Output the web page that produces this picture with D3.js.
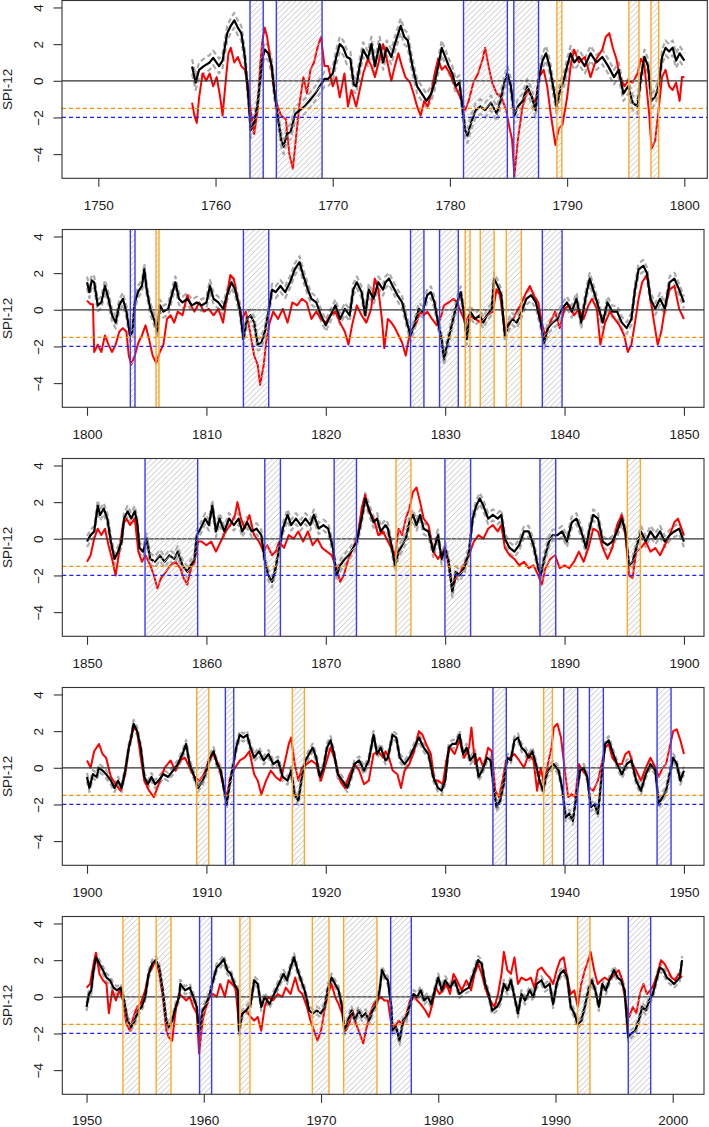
<!DOCTYPE html>
<html><head><meta charset="utf-8">
<script src="https://cdn.jsdelivr.net/npm/d3@7"></script>
<style>body{margin:0;background:#fff}svg{display:block}</style>
</head><body><svg id="c" width="709" height="1127"></svg>
<script>
// ---------------- DATA ----------------
const yTicks = [-4, -2, 0, 2, 4];
const ticks1 = [1750, 1760, 1770, 1780, 1790, 1800];
const ticks2 = [1800, 1810, 1820, 1830, 1840, 1850];
const ticks3 = [1850, 1860, 1870, 1880, 1890, 1900];
const ticks4 = [1900, 1910, 1920, 1930, 1940, 1950];
const ticks5 = [1950, 1960, 1970, 1980, 1990, 2000];
const thresholdModerate = -1.5;
const thresholdSevere = -2;
const bandHalfWidth = [0.4, 0.32, 0.3, 0.22, 0.22];

const black1 = [[1758.0,0.78],[1758.3,-0.1],[1758.6,0.6],[1759.0,0.8],[1759.5,1.0],[1759.8,1.25],[1760.3,0.8],[1760.6,1.1],[1761.0,2.6],[1761.3,3.0],[1761.6,3.3],[1761.9,2.9],[1762.2,2.6],[1762.5,1.3],[1762.8,-0.9],[1763.0,-2.7],[1763.3,-2.3],[1763.6,-1.2],[1763.8,0.0],[1764.0,1.2],[1764.2,1.7],[1764.5,1.5],[1764.8,0.8],[1765.0,-0.5],[1765.3,-1.9],[1765.6,-3.2],[1765.8,-3.6],[1766.1,-2.9],[1766.4,-2.8],[1766.8,-1.8],[1767.2,-1.6],[1767.6,-1.4],[1768.0,-1.1],[1768.5,-0.7],[1769.0,-0.2],[1769.3,0.1],[1769.6,0.1],[1770.0,0.4],[1770.3,1.3],[1770.6,2.0],[1770.9,1.8],[1771.2,1.3],[1771.5,1.2],[1771.8,-0.2],[1772.0,-0.3],[1772.3,0.8],[1772.6,1.7],[1773.0,1.2],[1773.3,2.0],[1773.6,0.8],[1774.0,2.0],[1774.3,1.0],[1774.6,1.8],[1775.0,1.3],[1775.3,2.0],[1775.6,2.6],[1775.8,3.0],[1776.1,2.4],[1776.4,2.2],[1776.8,0.8],[1777.2,-0.3],[1777.6,-0.7],[1778.0,-1.1],[1778.4,-0.7],[1778.7,-0.1],[1779.0,0.8],[1779.3,1.8],[1779.6,1.3],[1779.9,0.8],[1780.2,0.4],[1780.5,-0.3],[1780.8,-0.1],[1781.0,-1.1],[1781.3,-2.7],[1781.5,-3.0],[1781.8,-2.3],[1782.2,-1.6],[1782.6,-1.4],[1783.0,-1.6],[1783.5,-1.2],[1784.0,-1.8],[1784.3,-1.1],[1784.6,-0.2],[1784.9,0.4],[1785.2,-0.3],[1785.5,-1.9],[1785.8,-1.4],[1786.2,-1.1],[1786.6,-0.3],[1787.0,-0.9],[1787.3,-1.6],[1787.6,0.2],[1787.9,1.1],[1788.2,1.5],[1788.5,0.8],[1788.8,-0.3],[1789.1,-1.4],[1789.4,-0.5],[1789.7,0.0],[1790.0,0.8],[1790.3,1.5],[1790.6,1.0],[1791.0,1.3],[1791.5,0.8],[1792.0,1.5],[1792.5,1.0],[1793.0,1.3],[1793.5,0.8],[1794.0,0.2],[1794.4,0.6],[1794.8,-0.7],[1795.2,-0.3],[1795.6,-1.2],[1796.0,-1.4],[1796.3,0.2],[1796.6,1.3],[1796.9,0.8],[1797.2,-1.1],[1797.5,-0.9],[1797.8,-0.3],[1798.1,1.3],[1798.4,1.8],[1798.7,1.6],[1799.0,1.8],[1799.3,1.1],[1799.6,1.5],[1800.0,1.1]];
const red1 = [[1758.0,-1.2],[1758.2,-1.9],[1758.4,-2.3],[1758.6,-0.9],[1758.9,0.4],[1759.2,0.0],[1759.5,0.4],[1759.8,-0.3],[1760.1,0.2],[1760.4,-0.9],[1760.6,-1.9],[1760.9,0.2],[1761.1,1.5],[1761.3,1.8],[1761.6,1.0],[1761.9,1.3],[1762.2,0.8],[1762.5,0.6],[1762.8,-0.3],[1763.0,-1.6],[1763.3,-2.9],[1763.6,-1.6],[1763.8,0.8],[1764.0,2.2],[1764.2,2.9],[1764.4,2.4],[1764.7,1.1],[1765.0,-0.5],[1765.3,-1.4],[1765.6,-1.9],[1766.0,-2.1],[1766.3,-4.0],[1766.6,-4.8],[1766.9,-2.9],[1767.2,-1.1],[1767.5,0.2],[1767.8,-0.7],[1768.1,0.6],[1768.4,1.0],[1768.7,1.8],[1769.0,2.4],[1769.3,0.8],[1769.6,0.8],[1770.0,-0.3],[1770.3,0.2],[1770.6,-0.9],[1771.0,0.4],[1771.3,-1.4],[1771.6,-0.5],[1772.0,-1.4],[1772.3,-0.5],[1772.6,0.4],[1773.0,1.2],[1773.3,0.8],[1773.6,0.2],[1774.0,1.2],[1774.3,2.0],[1774.6,1.2],[1775.0,0.0],[1775.3,0.8],[1775.6,1.5],[1775.9,0.8],[1776.2,0.2],[1776.6,-0.1],[1776.9,-0.7],[1777.2,-1.4],[1777.5,-1.9],[1777.8,-1.1],[1778.1,-1.4],[1778.4,-0.7],[1778.7,0.4],[1779.0,1.2],[1779.3,0.6],[1779.6,0.8],[1780.0,0.4],[1780.3,-0.1],[1780.6,-0.5],[1781.0,-1.1],[1781.3,-1.6],[1781.6,-1.1],[1782.0,-0.1],[1782.4,0.4],[1782.8,1.2],[1783.0,1.8],[1783.3,0.8],[1783.6,-0.1],[1784.0,-0.7],[1784.4,-0.9],[1784.8,-1.6],[1785.0,-2.3],[1785.3,-3.2],[1785.5,-5.2],[1785.8,-3.2],[1786.2,-1.4],[1786.6,-0.5],[1787.0,-0.9],[1787.3,-1.2],[1787.6,0.2],[1788.0,0.6],[1788.3,-0.3],[1788.6,-1.8],[1789.0,-3.5],[1789.3,-2.6],[1789.6,-2.4],[1790.0,-0.9],[1790.3,0.8],[1790.6,1.7],[1791.0,1.0],[1791.5,1.3],[1792.0,0.2],[1792.5,1.2],[1793.0,1.7],[1793.3,2.4],[1793.6,2.6],[1793.9,1.8],[1794.2,1.2],[1794.5,0.2],[1794.9,-0.3],[1795.2,0.0],[1795.6,-0.1],[1796.0,0.4],[1796.3,1.2],[1796.6,0.8],[1797.0,-1.8],[1797.2,-3.7],[1797.5,-3.3],[1797.8,-1.6],[1798.1,0.2],[1798.4,0.6],[1798.7,-0.3],[1799.0,-0.5],[1799.3,-0.1],[1799.6,-1.1],[1799.8,0.2],[1800.0,0.2]];
const regions1 = [[1762.94,1764.07,"severe"],[1765.19,1769.09,"severe"],[1781.16,1784.9,"severe"],[1785.45,1787.56,"severe"],[1789.13,1789.55,"moderate"],[1795.27,1796.13,"moderate"],[1797.15,1797.81,"moderate"]];

const black2 = [[1800.0,1.5],[1800.2,0.96],[1800.4,1.6],[1800.6,1.5],[1800.9,0.24],[1801.2,0.4],[1801.5,1.3],[1801.8,0.6],[1802.1,-0.3],[1802.4,-0.7],[1802.7,0.24],[1803.0,0.6],[1803.3,-0.1],[1803.6,-1.4],[1803.8,-1.2],[1804.0,0.4],[1804.3,1.0],[1804.6,1.3],[1804.8,2.2],[1805.0,1.1],[1805.3,0.05],[1805.6,-0.5],[1805.9,-1.2],[1806.1,0.24],[1806.4,-0.1],[1806.8,0.05],[1807.1,0.8],[1807.4,1.5],[1807.7,0.6],[1808.0,0.4],[1808.4,0.6],[1808.8,0.24],[1809.2,0.4],[1809.6,0.24],[1810.0,0.4],[1810.3,1.3],[1810.6,0.6],[1811.0,0.4],[1811.4,0.05],[1811.8,0.96],[1812.1,1.5],[1812.4,1.1],[1812.8,0.05],[1813.1,-1.6],[1813.4,-0.5],[1813.7,-0.3],[1814.0,-0.7],[1814.3,-1.9],[1814.6,-1.8],[1814.9,-1.2],[1815.2,-0.1],[1815.5,1.1],[1815.8,0.96],[1816.2,1.3],[1816.6,0.96],[1817.0,1.5],[1817.4,2.2],[1817.8,2.6],[1818.1,1.9],[1818.5,1.1],[1818.8,0.6],[1819.2,0.4],[1819.6,-0.3],[1820.0,-0.85],[1820.4,-0.3],[1820.8,0.24],[1821.2,-0.5],[1821.6,0.05],[1822.0,-0.3],[1822.3,1.1],[1822.6,1.5],[1823.0,0.96],[1823.3,-0.3],[1823.6,1.1],[1824.0,0.6],[1824.4,1.5],[1824.8,1.1],[1825.0,1.5],[1825.3,1.7],[1825.6,1.3],[1826.0,0.8],[1826.4,0.4],[1826.8,-0.7],[1827.1,-1.4],[1827.4,-0.85],[1827.8,0.05],[1828.1,-0.1],[1828.5,0.8],[1828.8,0.96],[1829.1,0.4],[1829.4,-0.7],[1829.7,-1.6],[1829.9,-2.7],[1830.2,-1.8],[1830.6,-0.7],[1831.0,0.4],[1831.3,0.96],[1831.6,-0.3],[1831.8,-1.6],[1832.1,-0.1],[1832.5,-0.5],[1832.9,-0.3],[1833.2,-0.7],[1833.5,-0.3],[1833.9,0.05],[1834.1,1.7],[1834.4,1.3],[1834.7,0.8],[1835.0,-1.4],[1835.3,-0.85],[1835.6,-0.5],[1836.0,-0.7],[1836.4,-0.1],[1836.8,0.6],[1837.2,0.8],[1837.6,0.4],[1838.0,-0.7],[1838.3,-1.8],[1838.6,-1.0],[1839.0,-0.7],[1839.4,-0.5],[1839.8,0.05],[1840.2,0.4],[1840.6,-0.1],[1841.0,0.6],[1841.4,-0.7],[1841.8,0.8],[1842.1,1.7],[1842.4,1.1],[1842.8,0.24],[1843.2,-0.7],[1843.6,0.4],[1844.0,-0.1],[1844.4,-0.1],[1844.8,-0.7],[1845.2,-1.0],[1845.6,-0.5],[1845.9,1.1],[1846.2,2.2],[1846.6,2.4],[1846.9,2.0],[1847.2,0.6],[1847.6,0.05],[1848.0,0.6],[1848.4,0.05],[1848.8,1.5],[1849.2,1.7],[1849.6,1.1],[1850.0,0.4]];
const red2 = [[1800.0,0.5],[1800.3,0.3],[1800.5,0.3],[1800.6,-2.3],[1800.9,-1.9],[1801.2,-2.3],[1801.5,-1.4],[1801.8,-1.9],[1802.1,-2.3],[1802.4,-1.9],[1802.7,-1.2],[1803.0,-1.0],[1803.3,-1.2],[1803.5,-2.5],[1803.7,-3.0],[1804.0,-2.5],[1804.3,-1.8],[1804.6,-1.4],[1804.9,-0.85],[1805.2,-1.6],[1805.5,-2.5],[1805.8,-2.9],[1806.1,-2.3],[1806.4,-1.9],[1806.7,-0.5],[1807.0,-0.3],[1807.3,-0.7],[1807.6,-0.1],[1808.0,-0.3],[1808.4,0.8],[1808.7,0.24],[1809.0,-0.1],[1809.4,0.4],[1809.8,-0.1],[1810.2,0.05],[1810.6,-0.3],[1811.0,0.05],[1811.4,-0.7],[1811.8,1.1],[1812.0,1.9],[1812.3,1.7],[1812.6,0.6],[1813.0,-0.5],[1813.3,-0.1],[1813.6,-1.0],[1814.0,-2.5],[1814.3,-3.0],[1814.5,-4.1],[1814.8,-3.0],[1815.0,-1.8],[1815.3,-0.7],[1815.6,-0.1],[1816.0,-0.5],[1816.4,0.05],[1816.8,-0.7],[1817.2,0.4],[1817.6,0.24],[1818.0,0.6],[1818.4,0.4],[1818.8,-0.5],[1819.2,-0.1],[1819.6,-0.5],[1820.0,-0.7],[1820.4,-0.3],[1820.8,-0.1],[1821.2,-0.7],[1821.6,-1.2],[1821.9,-1.9],[1822.2,-0.85],[1822.6,0.24],[1823.0,-0.3],[1823.4,-0.7],[1823.8,0.05],[1824.1,1.7],[1824.4,1.1],[1824.7,-0.5],[1824.9,-2.1],[1825.2,-0.5],[1825.5,-0.7],[1825.8,-1.0],[1826.1,-1.4],[1826.4,-1.8],[1826.7,-2.5],[1827.0,-1.4],[1827.3,-1.0],[1827.6,-0.7],[1827.9,-0.1],[1828.2,-0.3],[1828.5,-0.1],[1828.9,-0.5],[1829.3,-0.85],[1829.6,-0.5],[1829.9,0.24],[1830.3,0.4],[1830.7,0.6],[1831.0,0.4],[1831.3,-0.1],[1831.7,-0.7],[1832.0,-0.3],[1832.5,-0.5],[1833.0,-0.7],[1833.5,-0.3],[1834.0,-0.1],[1834.3,1.1],[1834.6,0.8],[1835.0,-1.2],[1835.3,-0.7],[1835.7,-0.5],[1836.0,-0.1],[1836.4,0.4],[1836.8,0.96],[1837.1,1.3],[1837.4,0.8],[1837.8,0.4],[1838.1,-0.7],[1838.4,-1.4],[1838.8,-0.7],[1839.2,-0.1],[1839.6,-1.0],[1840.0,0.05],[1840.4,0.24],[1840.8,-0.3],[1841.2,0.05],[1841.6,-0.5],[1842.0,0.24],[1842.3,0.6],[1842.7,0.05],[1843.0,-1.9],[1843.4,-0.7],[1843.8,-0.1],[1844.2,-0.5],[1844.6,-0.85],[1845.0,-1.4],[1845.3,-2.3],[1845.6,-1.9],[1845.9,-0.7],[1846.2,0.6],[1846.5,1.5],[1846.9,1.9],[1847.2,0.6],[1847.5,-0.7],[1847.8,-1.9],[1848.1,-1.2],[1848.4,0.05],[1848.8,1.1],[1849.2,1.3],[1849.6,0.05],[1850.0,-0.5]];
const regions2 = [[1803.63,1804.02,"severe"],[1805.78,1806.03,"moderate"],[1813.1,1815.22,"severe"],[1827.1,1828.22,"severe"],[1829.53,1831.1,"severe"],[1831.68,1832.08,"moderate"],[1832.94,1834.1,"moderate"],[1835.12,1836.38,"moderate"],[1838.14,1839.79,"severe"]];

const black3 = [[1850.0,-0.15],[1850.3,0.2],[1850.6,0.4],[1850.9,1.8],[1851.1,1.3],[1851.4,1.65],[1851.7,1.1],[1852.0,-0.15],[1852.3,-1.1],[1852.6,-0.7],[1852.9,-0.15],[1853.1,1.1],[1853.4,1.5],[1853.7,1.1],[1854.0,1.5],[1854.2,0.9],[1854.4,-0.5],[1854.7,-0.7],[1855.0,0.0],[1855.3,-1.1],[1855.7,-1.25],[1856.1,-0.9],[1856.5,-1.25],[1856.9,-0.9],[1857.3,-1.1],[1857.6,-0.7],[1858.0,-1.45],[1858.4,-1.8],[1858.7,-1.45],[1859.0,-1.1],[1859.2,0.2],[1859.5,0.55],[1859.9,1.1],[1860.2,0.75],[1860.5,1.8],[1860.8,0.4],[1861.1,1.1],[1861.5,0.4],[1861.9,1.1],[1862.3,0.75],[1862.7,1.1],[1863.0,0.4],[1863.4,0.9],[1863.8,0.4],[1864.2,0.55],[1864.6,0.2],[1864.9,-1.25],[1865.2,-2.0],[1865.5,-2.35],[1865.8,-1.6],[1866.1,-0.5],[1866.4,0.55],[1866.8,1.3],[1867.1,0.75],[1867.5,1.1],[1867.9,0.75],[1868.3,1.1],[1868.7,0.75],[1869.0,1.3],[1869.4,0.55],[1869.8,0.75],[1870.2,0.55],[1870.6,-0.5],[1870.9,-2.0],[1871.2,-1.45],[1871.6,-1.1],[1871.9,-0.9],[1872.3,-0.5],[1872.6,-0.15],[1873.0,1.1],[1873.3,2.2],[1873.6,1.65],[1874.0,0.9],[1874.3,1.1],[1874.6,0.4],[1875.0,0.75],[1875.2,0.55],[1875.5,-0.35],[1875.8,-1.45],[1876.1,-0.7],[1876.4,-0.35],[1876.7,0.0],[1877.0,0.9],[1877.3,1.3],[1877.6,0.75],[1877.9,1.3],[1878.2,0.55],[1878.6,0.4],[1879.0,-0.7],[1879.4,0.2],[1879.7,-1.1],[1880.0,-0.5],[1880.3,-1.25],[1880.6,-2.9],[1880.9,-1.8],[1881.2,-2.0],[1881.6,-1.6],[1882.0,-0.7],[1882.3,1.1],[1882.6,1.8],[1882.9,2.2],[1883.2,1.8],[1883.6,1.1],[1884.0,1.3],[1884.4,1.1],[1884.7,1.3],[1885.0,0.0],[1885.4,-0.5],[1885.8,-0.7],[1886.2,-0.35],[1886.6,0.4],[1887.0,0.4],[1887.4,-0.35],[1887.8,-1.6],[1888.0,-2.0],[1888.3,-1.1],[1888.7,-0.15],[1889.0,0.2],[1889.4,0.2],[1889.8,0.4],[1890.2,-0.15],[1890.6,0.9],[1891.0,1.1],[1891.4,0.4],[1891.8,-0.5],[1892.1,0.55],[1892.4,1.3],[1892.8,1.1],[1893.2,-0.15],[1893.6,-0.35],[1894.0,-0.15],[1894.4,0.4],[1894.8,1.1],[1895.1,0.4],[1895.4,-1.45],[1895.7,-1.25],[1896.0,-0.5],[1896.4,0.4],[1896.8,-0.15],[1897.2,0.4],[1897.6,0.0],[1898.0,0.4],[1898.4,-0.15],[1898.8,0.2],[1899.2,0.4],[1899.6,0.55],[1900.0,-0.15]];
const red3 = [[1850.0,-1.25],[1850.3,-0.9],[1850.6,0.0],[1850.9,0.55],[1851.2,0.2],[1851.5,0.55],[1851.8,-0.35],[1852.1,-1.1],[1852.4,-2.0],[1852.7,-0.7],[1853.0,0.75],[1853.3,1.1],[1853.6,0.75],[1854.0,1.1],[1854.3,-0.7],[1854.6,-1.25],[1854.9,-0.9],[1855.3,-1.45],[1855.6,-2.0],[1855.9,-2.7],[1856.2,-2.15],[1856.6,-1.8],[1857.0,-1.45],[1857.4,-1.25],[1857.8,-1.6],[1858.1,-2.15],[1858.4,-2.5],[1858.7,-1.6],[1859.0,-1.25],[1859.3,-0.15],[1859.6,-0.15],[1860.0,-0.35],[1860.4,-0.15],[1860.8,-0.7],[1861.2,-0.15],[1861.6,0.4],[1862.0,0.75],[1862.4,1.3],[1862.6,2.0],[1862.9,1.1],[1863.2,0.55],[1863.6,1.3],[1864.0,0.2],[1864.4,-0.15],[1864.8,-0.7],[1865.1,-0.35],[1865.5,-0.9],[1865.8,-0.7],[1866.1,-0.15],[1866.5,-0.5],[1866.9,0.2],[1867.3,0.0],[1867.7,0.4],[1868.1,-0.15],[1868.5,0.4],[1868.9,-0.35],[1869.3,0.0],[1869.7,-0.5],[1870.1,-0.7],[1870.5,-0.9],[1870.9,-1.6],[1871.2,-2.35],[1871.5,-2.0],[1871.9,-1.1],[1872.3,-0.5],[1872.7,0.2],[1873.0,1.65],[1873.3,2.4],[1873.6,1.5],[1874.0,1.1],[1874.4,0.2],[1874.8,0.4],[1875.2,-0.15],[1875.5,-0.5],[1875.8,-0.9],[1876.1,0.55],[1876.4,0.2],[1876.7,1.1],[1877.0,1.65],[1877.3,2.55],[1877.6,2.8],[1877.9,2.0],[1878.2,1.1],[1878.6,0.75],[1879.0,-0.7],[1879.4,-1.1],[1879.8,-0.7],[1880.2,-1.1],[1880.6,-2.7],[1880.9,-2.15],[1881.3,-1.8],[1881.7,-1.25],[1882.0,-0.9],[1882.4,-0.15],[1882.8,0.2],[1883.2,0.0],[1883.6,0.55],[1884.0,0.75],[1884.4,0.4],[1884.7,0.75],[1885.0,-0.5],[1885.4,-0.9],[1885.8,-1.1],[1886.2,-1.45],[1886.6,-1.25],[1887.0,-1.6],[1887.4,-1.45],[1887.8,-2.0],[1888.1,-2.5],[1888.4,-1.6],[1888.8,-1.1],[1889.2,-0.9],[1889.6,-1.6],[1890.0,-1.45],[1890.4,-1.6],[1890.8,-1.25],[1891.2,-0.7],[1891.6,-1.25],[1892.0,-0.5],[1892.4,0.55],[1892.8,0.4],[1893.2,-0.5],[1893.6,-1.1],[1894.0,-0.5],[1894.4,0.75],[1894.8,1.3],[1895.1,0.2],[1895.4,-2.0],[1895.7,-2.15],[1896.0,-0.7],[1896.4,-0.5],[1896.8,-0.15],[1897.2,-0.7],[1897.6,-0.5],[1898.0,-0.9],[1898.4,-0.35],[1898.8,0.2],[1899.2,0.9],[1899.5,1.1],[1899.8,0.55],[1900.0,0.2]];
const regions3 = [[1854.86,1859.27,"severe"],[1864.89,1866.2,"severe"],[1870.7,1872.57,"severe"],[1875.88,1877.13,"moderate"],[1879.98,1882.13,"severe"],[1887.94,1889.26,"severe"],[1895.26,1896.35,"moderate"]];

const black4 = [[1900.0,-0.5],[1900.2,-1.1],[1900.5,-0.35],[1900.8,-0.5],[1901.0,0.0],[1901.3,-0.15],[1901.6,-0.35],[1902.0,-0.7],[1902.3,-1.1],[1902.6,-0.7],[1902.9,-1.1],[1903.2,-0.15],[1903.5,1.1],[1903.7,1.65],[1903.9,2.4],[1904.2,2.0],[1904.5,1.1],[1904.8,-0.5],[1905.1,-0.9],[1905.4,-0.5],[1905.7,-0.9],[1906.0,-0.7],[1906.4,-0.35],[1906.8,-0.5],[1907.2,-0.15],[1907.6,0.2],[1908.0,0.75],[1908.3,1.3],[1908.6,0.2],[1909.0,-0.5],[1909.3,-1.1],[1909.7,-0.7],[1910.0,-0.15],[1910.3,0.55],[1910.6,0.9],[1910.9,0.2],[1911.2,-0.15],[1911.5,-1.25],[1911.7,-2.0],[1911.9,-1.1],[1912.2,0.0],[1912.5,1.1],[1912.8,1.8],[1913.1,1.65],[1913.4,1.8],[1913.7,1.1],[1914.0,0.55],[1914.4,0.9],[1914.8,0.4],[1915.2,0.75],[1915.6,0.2],[1916.0,0.4],[1916.4,-0.5],[1916.8,-0.7],[1917.1,-0.15],[1917.4,-1.45],[1917.7,-1.8],[1918.0,-0.5],[1918.3,0.4],[1918.6,0.75],[1918.9,1.1],[1919.2,0.55],[1919.5,-0.5],[1919.8,0.0],[1920.1,1.1],[1920.4,1.5],[1920.7,0.75],[1921.0,-0.35],[1921.4,-0.7],[1921.8,-1.1],[1922.1,-0.5],[1922.4,0.2],[1922.8,0.4],[1923.2,-0.15],[1923.6,0.4],[1924.0,1.8],[1924.3,0.75],[1924.6,1.1],[1925.0,0.4],[1925.2,0.55],[1925.6,1.8],[1925.9,1.65],[1926.2,0.55],[1926.6,0.2],[1927.0,0.55],[1927.4,1.1],[1927.8,1.65],[1928.2,1.1],[1928.6,0.75],[1929.0,-0.5],[1929.4,-1.1],[1929.7,-1.25],[1930.0,-0.7],[1930.3,1.1],[1930.6,1.3],[1930.9,1.3],[1931.2,1.8],[1931.5,0.75],[1931.8,1.1],[1932.1,0.4],[1932.5,0.75],[1932.8,-0.5],[1933.1,-0.15],[1933.5,0.55],[1933.8,0.4],[1934.1,-1.25],[1934.3,-2.15],[1934.6,-1.8],[1934.9,-0.9],[1935.2,0.55],[1935.5,0.4],[1935.8,1.5],[1936.1,1.65],[1936.4,1.1],[1936.7,0.9],[1937.0,0.55],[1937.3,0.9],[1937.6,0.2],[1937.9,-0.7],[1938.2,-1.25],[1938.5,-0.35],[1938.8,0.0],[1939.1,0.2],[1939.5,-0.15],[1939.8,-1.1],[1940.1,-2.7],[1940.4,-2.5],[1940.7,-2.9],[1941.0,-1.45],[1941.3,-0.15],[1941.6,0.0],[1941.9,-0.5],[1942.2,-2.15],[1942.5,-2.0],[1942.8,-2.5],[1943.1,-0.5],[1943.4,1.3],[1943.7,1.5],[1944.0,0.9],[1944.4,0.2],[1944.8,-0.35],[1945.2,0.2],[1945.6,0.4],[1946.0,-0.7],[1946.4,-1.25],[1946.8,-0.35],[1947.2,0.2],[1947.6,-0.15],[1947.9,-2.0],[1948.2,-1.6],[1948.5,-1.25],[1948.8,-0.35],[1949.1,0.55],[1949.4,0.2],[1949.7,-0.7],[1950.0,-0.15]];
const red4 = [[1900.0,0.4],[1900.3,0.0],[1900.6,0.9],[1901.0,1.3],[1901.3,0.75],[1901.6,0.55],[1902.0,-0.5],[1902.4,-0.9],[1902.8,-1.25],[1903.2,-0.35],[1903.5,1.1],[1903.9,2.2],[1904.2,2.0],[1904.5,0.55],[1904.8,-0.7],[1905.2,-1.25],[1905.6,-1.6],[1906.0,-0.9],[1906.5,0.0],[1907.0,0.4],[1907.4,-0.15],[1907.8,0.4],[1908.2,0.55],[1908.6,0.0],[1909.0,-0.5],[1909.4,-0.7],[1909.8,-0.35],[1910.2,0.4],[1910.6,0.75],[1911.0,0.2],[1911.4,-0.9],[1911.7,-1.6],[1912.0,-0.5],[1912.4,0.0],[1912.8,0.4],[1913.2,0.55],[1913.6,0.9],[1914.0,-0.35],[1914.3,-0.7],[1914.6,-1.45],[1915.0,-0.7],[1915.4,-0.15],[1915.8,-0.5],[1916.2,-0.7],[1916.6,0.4],[1916.9,1.3],[1917.1,1.65],[1917.4,0.2],[1917.7,-0.7],[1918.0,0.0],[1918.4,0.2],[1918.8,0.4],[1919.2,0.2],[1919.6,-0.7],[1920.0,0.2],[1920.4,1.1],[1920.8,0.4],[1921.2,-0.7],[1921.6,-1.1],[1922.0,-0.35],[1922.4,0.2],[1922.8,-0.15],[1923.2,-0.9],[1923.6,-0.7],[1924.0,0.75],[1924.4,0.9],[1924.8,0.55],[1925.0,0.9],[1925.3,0.55],[1925.6,-0.15],[1926.0,-0.35],[1926.3,-1.1],[1926.6,-0.15],[1927.0,0.2],[1927.4,0.9],[1927.8,2.0],[1928.1,1.8],[1928.4,1.3],[1928.8,0.75],[1929.1,-0.7],[1929.4,-0.7],[1929.8,-0.9],[1930.1,0.4],[1930.4,1.1],[1930.8,0.75],[1931.2,1.5],[1931.6,0.55],[1932.0,1.1],[1932.2,2.2],[1932.5,0.2],[1932.9,0.55],[1933.2,0.0],[1933.6,1.1],[1933.9,0.9],[1934.2,-1.25],[1934.5,-1.6],[1934.8,-0.7],[1935.1,0.4],[1935.4,0.55],[1935.8,0.75],[1936.2,0.4],[1936.6,0.0],[1937.0,0.75],[1937.4,0.4],[1937.7,-1.25],[1938.0,0.0],[1938.3,-0.9],[1938.6,0.2],[1938.9,1.1],[1939.1,2.2],[1939.4,2.4],[1939.7,1.65],[1940.0,0.0],[1940.3,-1.6],[1940.6,-1.45],[1940.9,-1.6],[1941.2,0.2],[1941.5,-0.15],[1941.8,-0.35],[1942.1,-1.1],[1942.4,-1.25],[1942.8,-0.7],[1943.1,0.2],[1943.4,1.1],[1943.7,1.3],[1944.0,0.55],[1944.4,0.2],[1944.8,0.2],[1945.1,0.75],[1945.4,0.9],[1945.7,0.2],[1946.0,-0.15],[1946.4,-0.7],[1946.8,0.0],[1947.2,0.55],[1947.6,0.0],[1947.9,-0.5],[1948.2,0.0],[1948.5,0.2],[1948.8,1.1],[1949.1,2.0],[1949.4,2.1],[1949.7,1.5],[1950.0,0.75]];
const regions4 = [[1909.19,1910.2,"moderate"],[1911.59,1912.29,"severe"],[1917.2,1918.21,"moderate"],[1934.0,1935.12,"severe"],[1938.25,1938.98,"moderate"],[1939.93,1941.1,"severe"],[1942.08,1943.25,"severe"],[1947.75,1948.92,"severe"]];

const black5 = [[1950.0,-0.55],[1950.2,0.15],[1950.4,0.35],[1950.6,1.45],[1950.8,2.15],[1951.1,1.8],[1951.4,1.45],[1951.7,1.05],[1952.0,0.9],[1952.3,0.5],[1952.6,0.35],[1952.9,0.5],[1953.2,-0.2],[1953.5,-1.3],[1953.8,-1.65],[1954.1,-1.3],[1954.4,-0.75],[1954.7,-0.55],[1955.0,0.0],[1955.3,1.25],[1955.6,1.8],[1955.9,2.0],[1956.2,1.6],[1956.5,0.35],[1956.8,-1.3],[1957.0,-1.65],[1957.3,-1.3],[1957.6,-0.55],[1957.9,0.0],[1958.0,0.7],[1958.4,0.35],[1958.8,0.5],[1959.1,0.0],[1959.4,-0.55],[1959.6,-2.0],[1959.9,-0.75],[1960.2,-0.4],[1960.5,0.15],[1960.8,0.9],[1961.1,1.6],[1961.4,1.8],[1961.7,2.05],[1962.0,1.45],[1962.3,1.25],[1962.6,0.7],[1962.9,0.35],[1963.0,-1.85],[1963.3,-0.9],[1963.6,-0.75],[1964.0,-0.4],[1964.3,0.9],[1964.6,0.7],[1964.9,-0.55],[1965.2,0.0],[1965.6,-0.4],[1966.0,0.15],[1966.4,0.7],[1966.8,1.25],[1967.1,0.9],[1967.4,1.6],[1967.7,2.15],[1968.0,1.45],[1968.3,0.9],[1968.6,0.35],[1969.0,-0.75],[1969.3,-0.9],[1969.6,-0.75],[1970.0,-0.9],[1970.3,-0.55],[1970.6,0.5],[1970.9,1.05],[1971.2,0.7],[1971.5,0.35],[1971.8,-0.55],[1972.0,-1.85],[1972.3,-1.3],[1972.6,-0.75],[1972.9,-1.3],[1973.2,-0.75],[1973.5,-1.1],[1973.8,-0.9],[1974.1,-1.3],[1974.4,-0.75],[1974.7,-0.4],[1975.0,0.35],[1975.2,1.45],[1975.5,1.05],[1975.7,0.9],[1976.0,-0.55],[1976.1,-1.85],[1976.4,-1.65],[1976.7,-2.4],[1977.0,-1.3],[1977.3,-1.1],[1977.6,-0.4],[1977.9,0.15],[1978.2,0.0],[1978.5,0.35],[1978.8,-0.2],[1979.1,0.0],[1979.4,-0.4],[1979.7,0.35],[1980.0,1.05],[1980.3,0.35],[1980.6,0.9],[1981.0,0.5],[1981.4,0.9],[1981.8,0.15],[1982.2,0.35],[1982.6,0.5],[1983.0,1.25],[1983.4,2.0],[1983.7,1.8],[1984.0,0.7],[1984.3,0.15],[1984.6,-0.75],[1985.0,-0.55],[1985.3,-0.2],[1985.6,0.7],[1985.9,0.35],[1986.2,0.9],[1986.5,0.0],[1986.8,-0.9],[1987.1,0.15],[1987.4,-0.2],[1987.8,0.35],[1988.1,0.0],[1988.4,0.7],[1988.8,0.9],[1989.1,0.5],[1989.5,0.7],[1989.8,-0.4],[1990.1,0.7],[1990.4,1.25],[1990.7,1.45],[1991.0,1.05],[1991.3,-0.55],[1991.6,-0.9],[1991.9,-1.5],[1992.2,-1.3],[1992.5,-0.55],[1992.8,0.35],[1993.1,0.9],[1993.4,0.35],[1993.7,-0.55],[1994.0,0.7],[1994.3,0.35],[1994.6,0.9],[1995.0,1.45],[1995.3,1.05],[1995.6,0.9],[1995.9,0.35],[1996.2,-2.2],[1996.5,-2.0],[1996.8,-1.85],[1997.1,-1.3],[1997.4,-0.55],[1997.7,-0.75],[1998.0,-0.2],[1998.3,0.15],[1998.6,0.9],[1998.9,1.6],[1999.2,1.45],[1999.5,1.05],[1999.8,0.9],[2000.1,0.7],[2000.4,0.9],[2000.6,1.05],[2000.8,2.0]];
const red5 = [[1950.0,0.5],[1950.3,0.7],[1950.6,1.8],[1950.8,2.4],[1951.1,1.25],[1951.4,0.9],[1951.7,0.7],[1951.9,-0.9],[1952.2,0.35],[1952.5,-0.2],[1952.8,0.35],[1953.1,-0.2],[1953.4,-1.5],[1953.7,-1.85],[1954.0,-1.1],[1954.3,-0.55],[1954.6,-0.4],[1955.0,0.35],[1955.3,1.25],[1955.6,1.6],[1955.9,2.0],[1956.2,1.25],[1956.5,0.0],[1956.8,-1.85],[1957.0,-2.2],[1957.3,-2.4],[1957.6,-0.75],[1957.9,0.15],[1958.2,0.0],[1958.5,-0.2],[1958.8,0.0],[1959.1,-0.55],[1959.4,-0.9],[1959.6,-3.1],[1959.9,-1.3],[1960.2,-0.55],[1960.5,0.0],[1960.8,0.15],[1961.1,0.0],[1961.4,0.7],[1961.8,0.0],[1962.1,0.9],[1962.4,0.7],[1962.7,0.5],[1963.0,-1.5],[1963.3,-0.9],[1963.6,-0.75],[1964.0,-1.1],[1964.3,-1.3],[1964.6,-1.1],[1964.9,-1.85],[1965.2,-0.55],[1965.5,0.0],[1965.9,-0.2],[1966.3,0.15],[1966.7,0.0],[1967.0,0.5],[1967.4,0.15],[1967.8,1.05],[1968.1,0.35],[1968.4,0.15],[1968.8,-0.55],[1969.1,-1.3],[1969.4,-1.85],[1969.7,-2.4],[1970.0,-1.85],[1970.3,-0.75],[1970.6,0.15],[1970.9,0.7],[1971.2,0.0],[1971.5,-0.4],[1971.8,-0.9],[1972.1,-1.85],[1972.4,-1.5],[1972.7,-0.75],[1973.0,-1.5],[1973.3,-2.0],[1973.6,-2.55],[1973.9,-1.65],[1974.2,-0.9],[1974.5,-0.4],[1974.8,-0.2],[1975.1,0.0],[1975.4,-0.2],[1975.7,-0.2],[1976.0,-1.5],[1976.3,-1.65],[1976.6,-1.3],[1977.0,-1.5],[1977.3,-0.9],[1977.6,-0.2],[1977.9,0.15],[1978.2,-0.2],[1978.5,-0.4],[1978.9,-0.75],[1979.2,-1.1],[1979.5,-0.4],[1979.8,0.5],[1980.1,0.15],[1980.4,0.35],[1980.7,0.7],[1981.0,0.15],[1981.3,1.25],[1981.6,0.9],[1982.0,0.35],[1982.4,0.9],[1982.8,0.35],[1983.1,1.25],[1983.4,1.8],[1983.7,1.25],[1984.0,0.5],[1984.4,-0.2],[1984.8,-0.55],[1985.1,0.15],[1985.4,1.25],[1985.6,2.45],[1985.9,1.45],[1986.2,1.25],[1986.5,2.15],[1986.8,0.7],[1987.1,1.05],[1987.5,0.9],[1987.9,1.05],[1988.2,0.5],[1988.5,1.45],[1988.8,1.6],[1989.2,1.25],[1989.5,1.05],[1989.8,0.7],[1990.1,1.45],[1990.4,2.0],[1990.7,2.15],[1991.0,1.05],[1991.3,0.15],[1991.6,0.35],[1991.9,-0.55],[1992.2,0.7],[1992.5,1.45],[1992.8,2.0],[1993.0,2.45],[1993.3,1.45],[1993.6,0.7],[1993.9,0.9],[1994.2,1.05],[1994.5,0.9],[1994.8,1.05],[1995.1,1.25],[1995.4,1.45],[1995.7,0.9],[1996.0,-0.4],[1996.3,-1.1],[1996.6,-0.55],[1996.9,-0.9],[1997.2,0.15],[1997.5,0.7],[1997.8,0.15],[1998.1,0.35],[1998.4,0.7],[1998.7,1.25],[1999.0,2.0],[1999.3,1.8],[1999.6,1.45],[1999.9,1.05],[2000.2,0.9],[2000.5,1.25],[2000.8,1.05]];
const regions5 = [[1953.1,1954.49,"moderate"],[1955.94,1957.2,"moderate"],[1959.64,1960.67,"severe"],[1963.08,1963.94,"moderate"],[1969.26,1970.68,"moderate"],[1971.93,1974.77,"moderate"],[1975.94,1977.7,"severe"],[1991.89,1992.94,"moderate"],[1996.21,1998.12,"severe"]];

// ---------------- LAYOUT ----------------
const panels = [
  {black: black1, red: red1, regions: regions1, ticks: ticks1, band: bandHalfWidth[0], xr: [62, 707.3], xd: [1746.9, 1801.96]},
  {black: black2, red: red2, regions: regions2, ticks: ticks2, band: bandHalfWidth[1], xr: [62.3, 704], xd: [1797.93, 1851.68]},
  {black: black3, red: red3, regions: regions3, ticks: ticks3, band: bandHalfWidth[2], xr: [62.3, 704], xd: [1847.93, 1901.68]},
  {black: black4, red: red4, regions: regions4, ticks: ticks4, band: bandHalfWidth[3], xr: [62.3, 704], xd: [1897.93, 1951.68]},
  {black: black5, red: red5, regions: regions5, ticks: ticks5, band: bandHalfWidth[4], xr: [62.3, 704], xd: [1947.93, 2002.67]}
];
const yDomain = [-5.32, 4.38];
const FONT = "'Liberation Sans', Arial, Helvetica, sans-serif";
const FS = "13.5px";
const borderColor = {severe: "#3a3aff", moderate: "#ffa726"};

const svg = d3.select("#c");
const defs = svg.append("defs");
const pat = defs.append("pattern").attr("id", "hatch").attr("patternUnits", "userSpaceOnUse")
  .attr("width", 5.5).attr("height", 5.5);
pat.append("path").attr("d", "M-1,1 L1,-1 M0,5.5 L5.5,0 M4.5,6.5 L6.5,4.5")
  .attr("stroke", "#bdbdbd").attr("stroke-width", 0.9).attr("fill", "none");

panels.forEach((p, i) => {
  const top = 0.5 + 229 * i;
  const bottom = top + 177.8;
  const x = d3.scaleLinear().domain(p.xd).range(p.xr);
  const y = d3.scaleLinear().domain(yDomain).range([bottom, top]);
  const cid = "clip" + i;
  defs.append("clipPath").attr("id", cid).append("rect")
    .attr("x", p.xr[0]).attr("y", top).attr("width", p.xr[1] - p.xr[0]).attr("height", bottom - top);

  const g = svg.append("g");
  const plot = g.append("g").attr("clip-path", `url(#${cid})`);
  const line = d3.line().x(d => x(d[0])).y(d => y(d[1]));

  // uncertainty band (gray dashed)
  [1, -1].forEach(s => {
    plot.append("path").attr("d", line(p.black.map(d => [d[0], d[1] + s * p.band])))
      .attr("fill", "none").attr("stroke", "#a9a9a9").attr("stroke-width", 2.2)
      .attr("stroke-dasharray", "5,3").attr("stroke-linejoin", "round");
  });
  plot.append("path").attr("d", line(p.red)).attr("fill", "none")
    .attr("stroke", "#ff0000").attr("stroke-width", 2).attr("stroke-linejoin", "round");
  plot.append("path").attr("d", line(p.black)).attr("fill", "none")
    .attr("stroke", "#000").attr("stroke-width", 2.2).attr("stroke-linejoin", "round");

  // zero line
  plot.append("line").attr("x1", p.xr[0]).attr("x2", p.xr[1]).attr("y1", y(0)).attr("y2", y(0))
    .attr("stroke", "#333").attr("stroke-width", 1.2);

  // hatched drought periods
  plot.selectAll("rect.h").data(p.regions).join("rect").attr("class", "h")
    .attr("x", d => x(d[0])).attr("width", d => x(d[1]) - x(d[0]))
    .attr("y", top).attr("height", bottom - top).attr("fill", "url(#hatch)");

  // thresholds
  plot.append("line").attr("x1", p.xr[0]).attr("x2", p.xr[1])
    .attr("y1", y(thresholdModerate)).attr("y2", y(thresholdModerate))
    .attr("stroke", "#ff8c00").attr("stroke-width", 1.2).attr("stroke-dasharray", "4,3");
  plot.append("line").attr("x1", p.xr[0]).attr("x2", p.xr[1])
    .attr("y1", y(thresholdSevere)).attr("y2", y(thresholdSevere))
    .attr("stroke", "#1f1fff").attr("stroke-width", 1.2).attr("stroke-dasharray", "4,3");

  // region borders
  p.regions.forEach(r => {
    [r[0], r[1]].forEach(v => {
      plot.append("line").attr("x1", x(v)).attr("x2", x(v)).attr("y1", top).attr("y2", bottom)
        .attr("stroke", borderColor[r[2]]).attr("stroke-width", 1.4);
    });
  });

  // box
  g.append("rect").attr("x", p.xr[0]).attr("y", top).attr("width", p.xr[1] - p.xr[0])
    .attr("height", bottom - top).attr("fill", "none").attr("stroke", "#333").attr("stroke-width", 1.1);

  // x axis
  const pad = i === 4 ? 12.2 : 13.9;
  const xa = g.append("g").attr("transform", `translate(0,${bottom})`)
    .call(d3.axisBottom(x).tickValues(p.ticks).tickFormat(d3.format("d")).tickSize(8.5).tickPadding(pad));
  xa.select(".domain").remove();
  xa.selectAll("line").attr("stroke", "#333").attr("stroke-width", 1.1);
  xa.selectAll("text").attr("font-family", FONT).attr("font-size", FS).attr("fill", "#1a1a1a");

  // y axis
  const ya = g.append("g").attr("transform", `translate(${p.xr[0]},0)`)
    .call(d3.axisLeft(y).tickValues(yTicks).tickSize(8.5));
  ya.select(".domain").remove();
  ya.selectAll("line").attr("stroke", "#333").attr("stroke-width", 1.1);
  ya.selectAll("text").attr("font-family", FONT).attr("font-size", FS).attr("fill", "#1a1a1a")
    .attr("text-anchor", "middle").attr("dy", null).attr("x", 0).attr("y", -(p.xr[0] - 42.7))
    .attr("transform", "rotate(-90)")
    .text(d => d < 0 ? "\u2212" + Math.abs(d) : String(d));

  // y label
  g.append("text").attr("transform", `translate(11.7,${(top + bottom) / 2}) rotate(-90)`)
    .attr("text-anchor", "middle").attr("font-family", FONT).attr("font-size", FS)
    .attr("fill", "#1a1a1a").text("SPI-12");
});
</script></body></html>
